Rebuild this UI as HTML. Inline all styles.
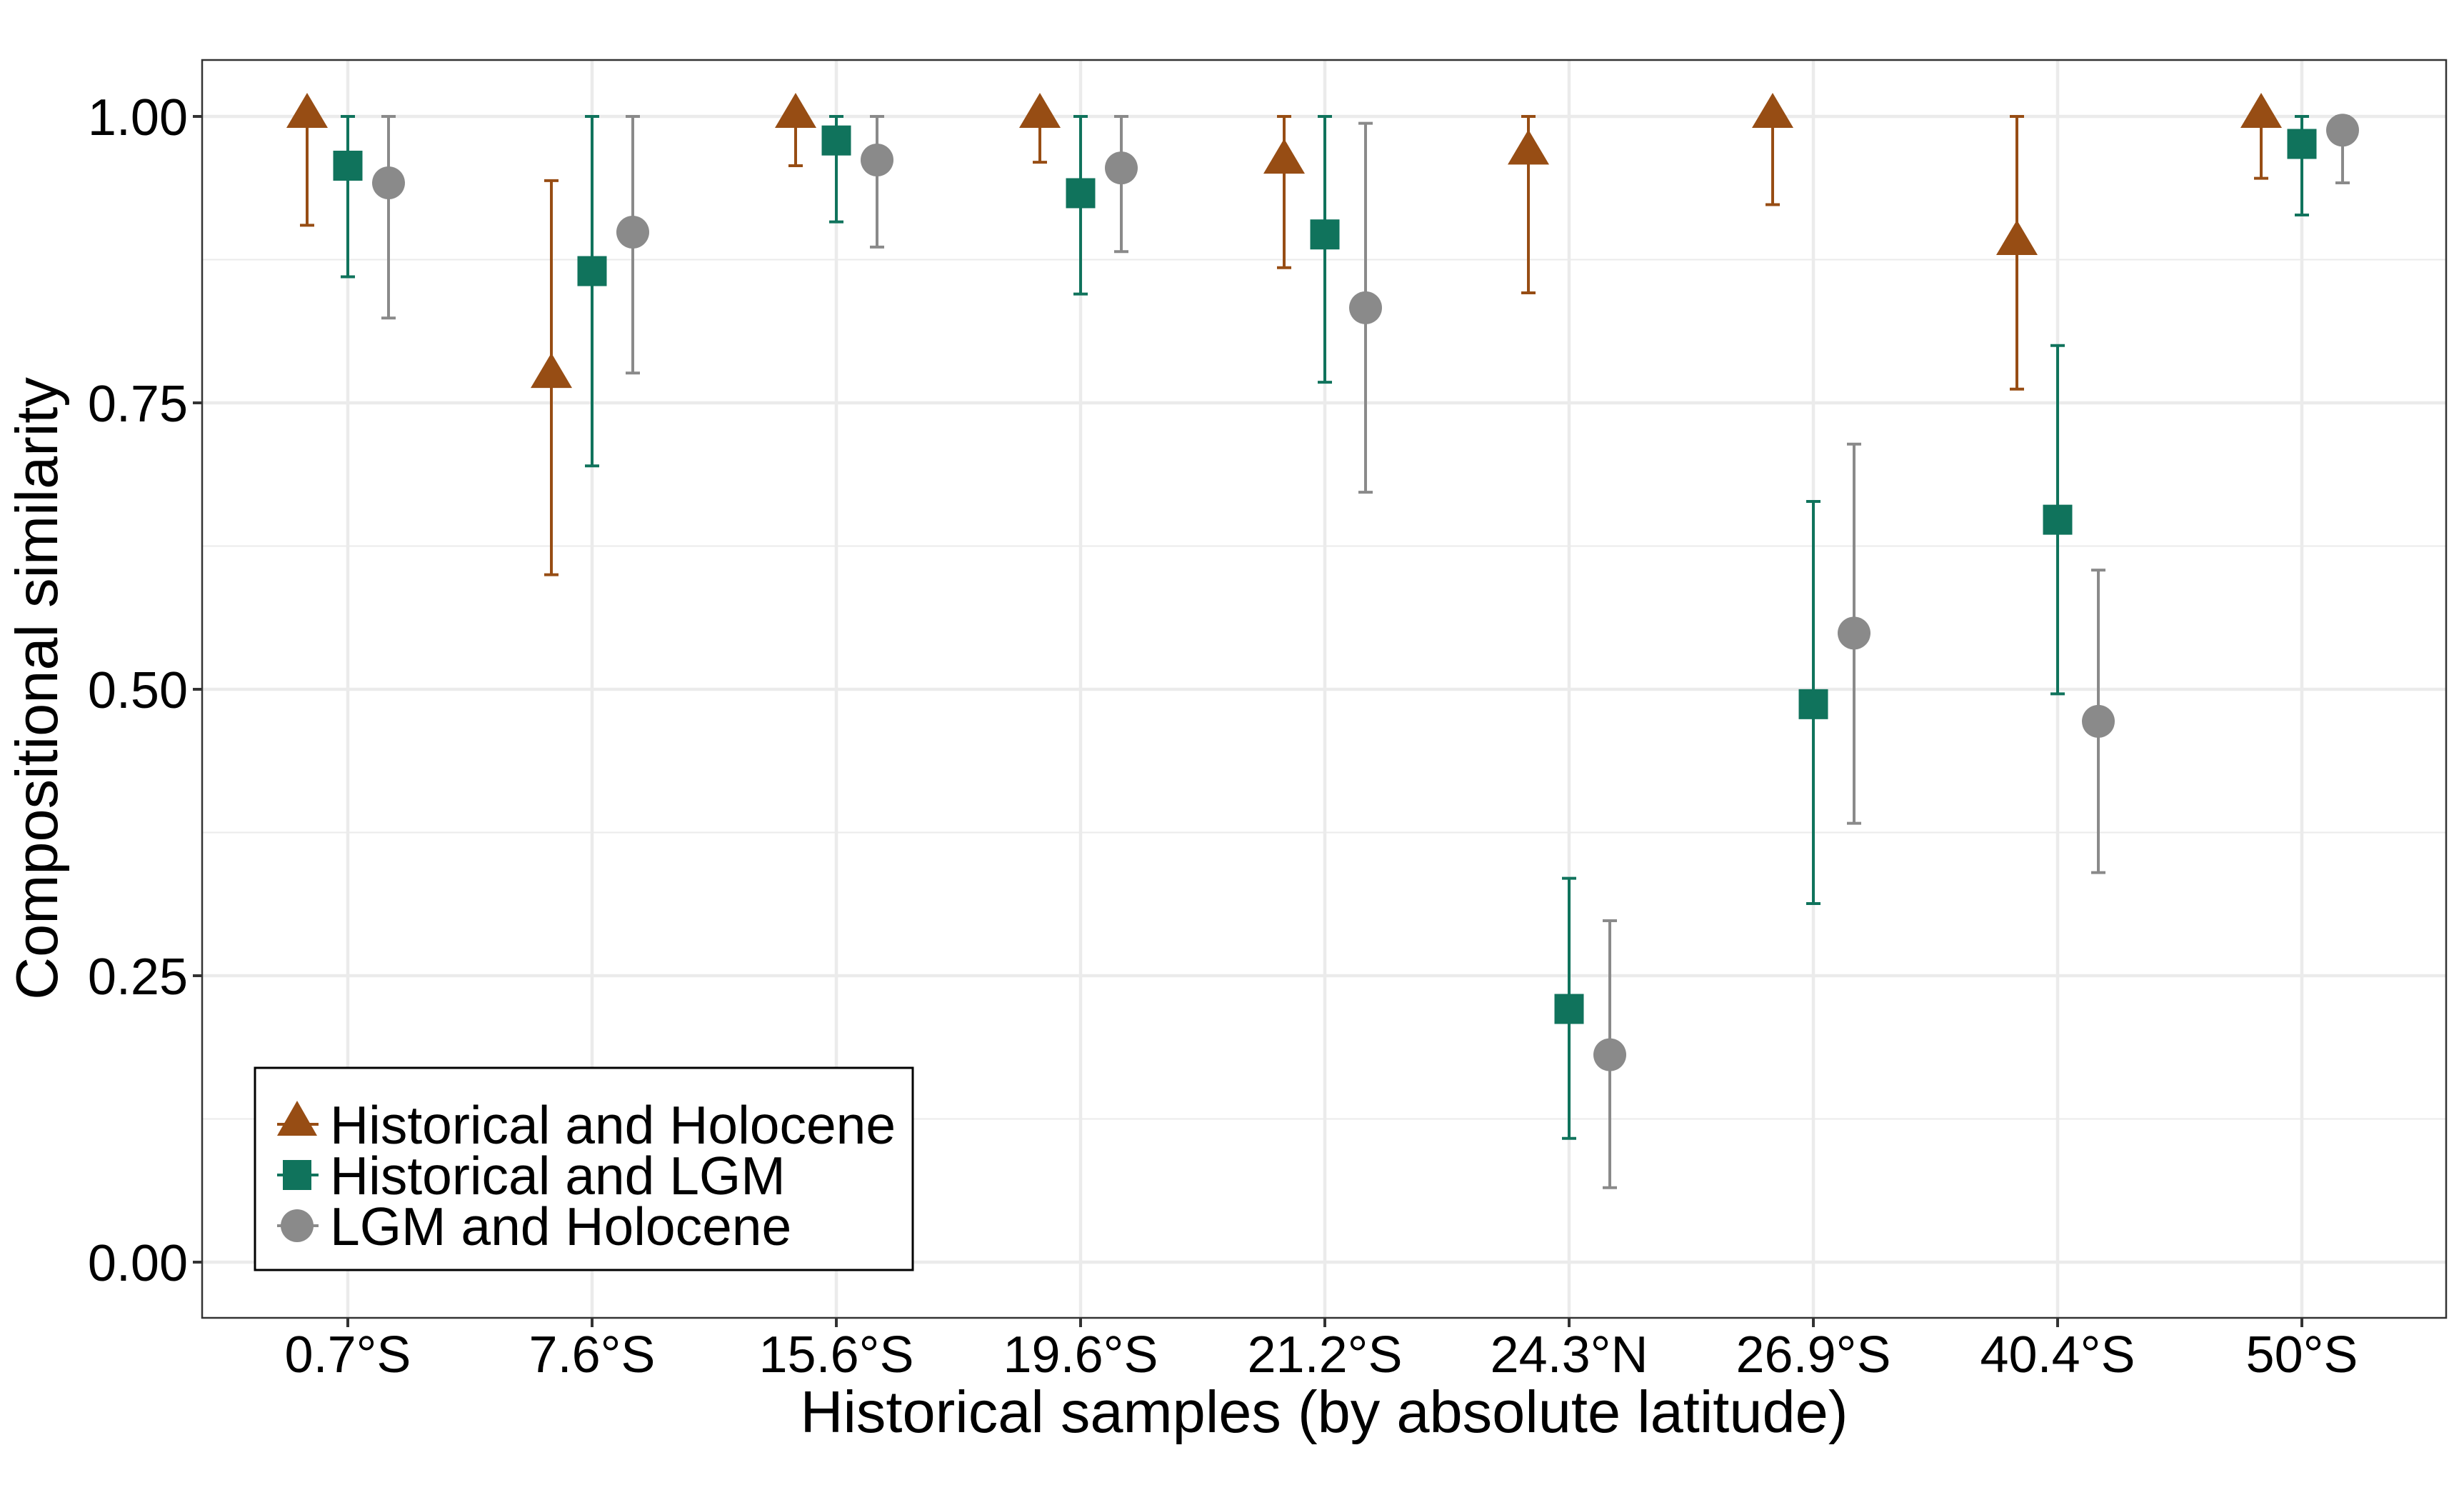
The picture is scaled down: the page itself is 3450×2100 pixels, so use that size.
<!DOCTYPE html>
<html><head><meta charset="utf-8"><style>
html,body{margin:0;padding:0;background:#fff;}
svg{display:block;font-family:"Liberation Sans",Arial,sans-serif;}
</style></head><body>
<svg id="chart" width="3450" height="2100" viewBox="0 0 3450 2100" xmlns="http://www.w3.org/2000/svg">
<rect x="0" y="0" width="3450" height="2100" fill="#fff"/>
<g id="grid"></g>
<g id="marks"></g>
<rect x="283" y="84" width="3142" height="1761" fill="none" stroke="#333" stroke-width="2.5"/>
<g id="axes"></g>
<text x="1854" y="2005" font-size="83" text-anchor="middle">Historical samples (by absolute latitude)</text>
<text transform="translate(80,964) rotate(-90)" font-size="83" text-anchor="middle">Compositional similarity</text>
<g>
<rect x="357" y="1495" width="921" height="283" fill="#fff" stroke="#000" stroke-width="3"/>
<g>
<line x1="388" x2="446" y1="1574" y2="1574" stroke="#974D14" stroke-width="4"/>
<polygon points="416,1541 444,1590 388,1590" fill="#974D14"/>
<text x="462" y="1601" font-size="75">Historical and Holocene</text></g>
<g>
<line x1="388" x2="446" y1="1645" y2="1645" stroke="#10735C" stroke-width="4"/>
<rect x="396" y="1624" width="40" height="42" fill="#10735C"/>
<text x="462" y="1672" font-size="75">Historical and LGM</text></g>
<g>
<line x1="388" x2="446" y1="1716" y2="1716" stroke="#8A8A8A" stroke-width="4"/>
<circle cx="416" cy="1716" r="23" fill="#8A8A8A"/>
<text x="462" y="1743" font-size="75">LGM and Holocene</text></g>
</g>
</svg>
<script>
const categories = ["0.7°S","7.6°S","15.6°S","19.6°S","21.2°S","24.3°N","26.9°S","40.4°S","50°S"];
const yTicks = [0, 0.25, 0.5, 0.75, 1.0];
const yTickLabels = ["0.00","0.25","0.50","0.75","1.00"];
const holoVal = [1.0,0.773,1.0,1.0,0.96,0.968,1.0,0.889,1.0];
const holoLo  = [0.905,0.60,0.957,0.96,0.868,0.846,0.923,0.762,0.946];
const holoHi  = [1,0.944,1,1,1,1,1,1,1];
const lgmVal = [0.957,0.865,0.979,0.933,0.897,0.221,0.487,0.648,0.976];
const lgmLo  = [0.86,0.695,0.908,0.845,0.768,0.108,0.313,0.496,0.914];
const lgmHi  = [1,1,1,1,1,0.335,0.664,0.80,1];
const lhVal = [0.942,0.899,0.962,0.955,0.833,0.181,0.549,0.472,0.988];
const lhLo  = [0.824,0.776,0.886,0.882,0.672,0.065,0.383,0.34,0.942];
const lhHi  = [1,1,1,1,0.994,0.298,0.714,0.604,1];

const NS="http://www.w3.org/2000/svg";
const L=283,R=3425,T=84,B=1845;
const y=v=>1767-v*1604;
const x=i=>487+i*342;
function mk(tag,attrs,parent){const e=document.createElementNS(NS,tag);for(const k in attrs)e.setAttribute(k,attrs[k]);parent.appendChild(e);return e;}
const grid=document.getElementById('grid'),marks=document.getElementById('marks'),axes=document.getElementById('axes');
mk('rect',{x:L,y:T,width:R-L,height:B-T,fill:'#fff'},grid);
for(let k=0;k<4;k++){const v=0.125+k*0.25;const g=mk('line',{x1:L,x2:R,y1:y(v),y2:y(v),stroke:'#EBEBEB','stroke-width':2},grid);

}
yTicks.forEach((v,k)=>{
const g=mk('line',{x1:L,x2:R,y1:y(v),y2:y(v),stroke:'#EBEBEB','stroke-width':4.5},grid);


const t=mk('line',{x1:L-13,x2:L,y1:y(v),y2:y(v),stroke:'#333','stroke-width':4},axes);


const lb=mk('text',{x:L-20,y:y(v)+26,'font-size':72,'text-anchor':'end'},axes);lb.textContent=yTickLabels[k];


});
categories.forEach((c,i)=>{
const g=mk('line',{x1:x(i),x2:x(i),y1:T,y2:B,stroke:'#EBEBEB','stroke-width':4.5},grid);


const t=mk('line',{x1:x(i),x2:x(i),y1:B,y2:B+13,stroke:'#333','stroke-width':4},axes);


const lb=mk('text',{x:x(i),y:1921,'font-size':72,'text-anchor':'middle'},axes);lb.textContent=c;


});
function errbar(cx,lo,hi,col,name){
const g=mk('g',{stroke:col,'stroke-width':4},marks);


mk('line',{x1:cx,x2:cx,y1:y(lo),y2:y(hi)},g);
mk('line',{x1:cx-10,x2:cx+10,y1:y(lo),y2:y(lo)},g);
mk('line',{x1:cx-10,x2:cx+10,y1:y(hi),y2:y(hi)},g);
}
categories.forEach((c,i)=>{
let cx=x(i)-57;
errbar(cx,holoLo[i],holoHi[i],'#974D14','errorbar-historical-holocene');
let cy=y(holoVal[i]);
const tr=mk('polygon',{points:`${cx},${cy-33} ${cx+29},${cy+16} ${cx-29},${cy+16}`,fill:'#974D14'},marks);


cx=x(i);
errbar(cx,lgmLo[i],lgmHi[i],'#10735C','errorbar-historical-lgm');
cy=y(lgmVal[i]);
const sq=mk('rect',{x:cx-20.5,y:cy-21,width:41,height:42,fill:'#10735C'},marks);


cx=x(i)+57;
errbar(cx,lhLo[i],lhHi[i],'#8A8A8A','errorbar-lgm-holocene');
cy=y(lhVal[i]);
const ci=mk('circle',{cx:cx,cy:cy,r:23,fill:'#8A8A8A'},marks);


});
</script>
</body></html>
